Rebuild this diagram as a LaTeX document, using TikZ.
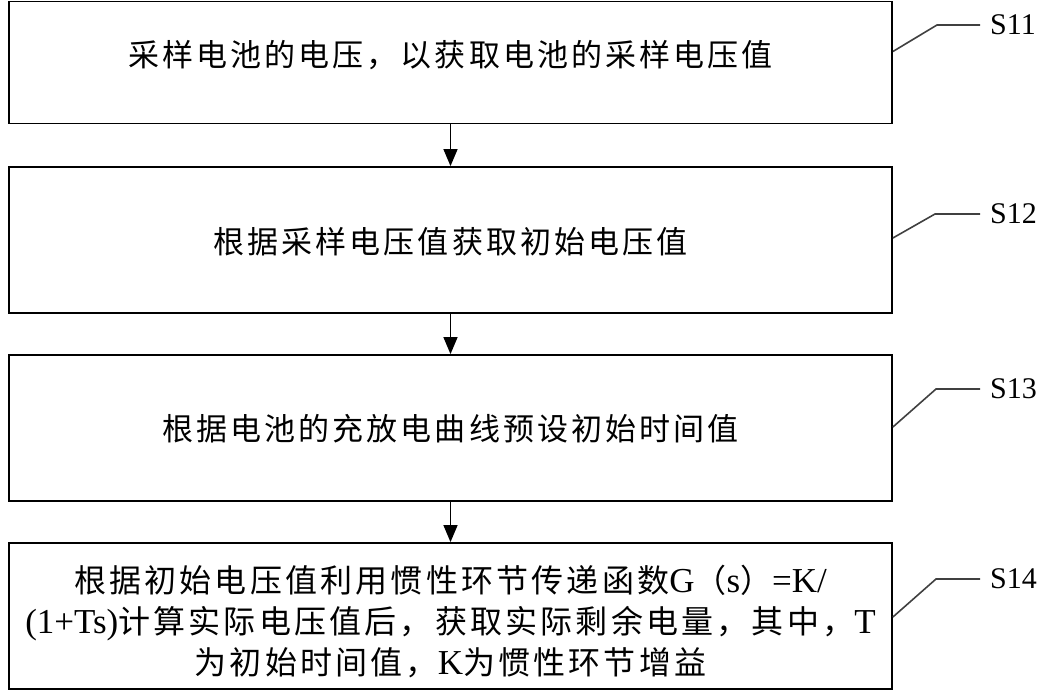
\documentclass[tikz,border=0pt]{standalone}
\usepackage{fontspec}
\setmainfont{Liberation Serif}
\newfontfamily\cjk[LetterSpace=10]{Noto Sans CJK SC}
\usetikzlibrary{arrows.meta,calc}
\newcommand\latn[1]{{\rmfamily\fontsize{35}{41}\selectfont #1}}
\begin{document}
\begin{tikzpicture}[x=1pt,y=-1pt,
  stepbox/.style={draw=black, line width=1.8pt, minimum width=883pt, minimum height=146pt, inner sep=0pt},
  steptext/.style={inner sep=0pt, font=\cjk\fontsize{31}{41}\selectfont, align=center},
  flow/.style={line width=1.4pt, -{Triangle[width=14pt,length=17pt]}},
  leader/.style={draw=black!75, line width=1.6pt},
  lab/.style={anchor=west, font=\fontsize{30}{30}\selectfont, inner sep=0pt}]
\useasboundingbox (0,0) rectangle (1049,700);
\node[stepbox, minimum height=122pt] (b1) at (450.5,62.5) {};
\node[stepbox] (b2) at (450.5,240) {};
\node[stepbox] (b3) at (450.5,428) {};
\node[stepbox] (b4) at (450.5,616) {};
\node[steptext] (t1) at ($(b1)+(0,-7)$) {采样电池的电压，以获取电池的采样电压值};
\node[steptext] (t2) at ($(b2)+(0,2)$) {根据采样电压值获取初始电压值};
\node[steptext] (t3) at ($(b3)+(0,1)$) {根据电池的充放电曲线预设初始时间值};
\node[steptext, font=\cjk\fontsize{32}{41}\selectfont] (t4) at ($(b4)+(0,6)$) {根据初始电压值利用惯性环节传递函数\latn{G}（\latn{s}）\latn{=K/}\\\latn{(1+Ts)}计算实际电压值后，获取实际剩余电量，其中，\latn{T}\\为初始时间值，\latn{K}为惯性环节增益};
\draw[flow] (b1) -- (b2);
\draw[flow] (b2) -- (b3);
\draw[flow] (b3) -- (b4);
\node[lab] (l1) at (990,25) {S11};
\node[lab] (l2) at (990,214) {S12};
\node[lab] (l3) at (990,389) {S13};
\node[lab] (l4) at (990,579) {S14};
\coordinate (c1) at (937,25);
\coordinate (c2) at (935,214);
\coordinate (c3) at (936,389);
\coordinate (c4) at (936,579);
\draw[leader] ($(b1.east)+(0,-11)$) -- (c1) -- ($(l1.west)+(-10,0)$);
\draw[leader] ($(b2.east)+(0,-2)$) -- (c2) -- ($(l2.west)+(-10,0)$);
\draw[leader] ($(b3.east)+(0,-1)$) -- (c3) -- ($(l3.west)+(-10,0)$);
\draw[leader] ($(b4.east)+(0,1)$) -- (c4) -- ($(l4.west)+(-10,0)$);
\end{tikzpicture}
\end{document}
